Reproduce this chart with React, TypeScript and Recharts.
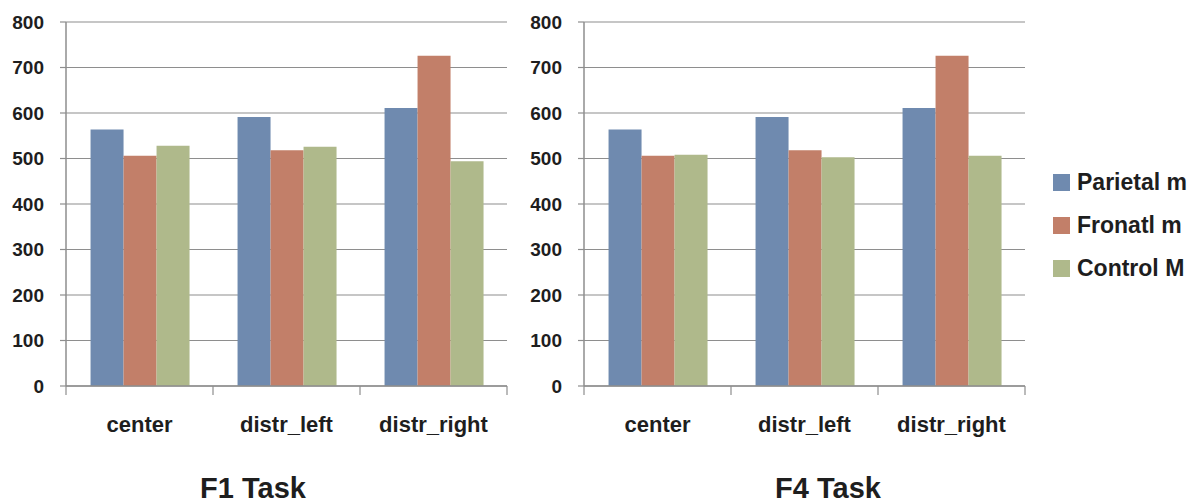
import React from 'react';
import { BarChart, Bar, XAxis, YAxis, CartesianGrid } from 'recharts';

const categories = ['center', 'distr_left', 'distr_right'];
const seriesNames = ['Parietal m', 'Fronatl m', 'Control M'];
const seriesColors = ['#6F8AAF', '#C27F69', '#AFB98B'];
const yTicks = [0, 100, 200, 300, 400, 500, 600, 700, 800];

const f1Parietal = [564, 591, 611];
const f1Frontal = [506, 518, 726];
const f1Control = [528, 526, 494];

const f4Parietal = [564, 591, 611];
const f4Frontal = [506, 518, 726];
const f4Control = [508, 503, 506];

const panelTitles = ['F1 Task', 'F4 Task'];

const FONT = '"Liberation Sans", Arial, sans-serif';
const TEXT = '#1e1e1e';
const GRID = '#8E8E8E';

const build = (a: number[], b: number[], c: number[]) =>
  categories.map((cat, i) => ({ cat, s0: a[i], s1: b[i], s2: c[i] }));

const f1Data = build(f1Parietal, f1Frontal, f1Control);
const f4Data = build(f4Parietal, f4Frontal, f4Control);

const CatTick = (props: any) => {
  const { x, y, payload, width, visibleTicksCount, index } = props;
  const half = payload && payload.offset ? payload.offset : width / visibleTicksCount / 2;
  const isLast = index === visibleTicksCount - 1;
  return (
    <g>
      <line x1={x - half} x2={x - half} y1={y} y2={y + 9} stroke={GRID} strokeWidth={1.2} />
      {isLast && <line x1={x + half} x2={x + half} y1={y} y2={y + 9} stroke={GRID} strokeWidth={1.2} />}
      <text x={x} y={y + 46} textAnchor="middle" fill={TEXT} fontFamily={FONT} fontWeight="bold" fontSize={22}>
        {payload.value}
      </text>
    </g>
  );
};

const Panel = ({ data }: { data: any[] }) => (
  <BarChart
    width={520}
    height={503}
    data={data}
    margin={{ top: 22, right: 13, bottom: 0, left: 0 }}
    barCategoryGap="16.7%"
    barGap={0}
  >
    <CartesianGrid vertical={false} stroke={GRID} strokeWidth={1.2} />
    <XAxis
      dataKey="cat"
      height={117}
      tickLine={false}
      tickSize={0}
      tickMargin={0}
      axisLine={{ stroke: GRID, strokeWidth: 1.5 }}
      tick={<CatTick />}
      interval={0}
    />
    <YAxis
      width={66}
      domain={[0, 800]}
      ticks={yTicks}
      interval={0}
      tickSize={6}
      tickMargin={16}
      axisLine={{ stroke: GRID, strokeWidth: 1.5 }}
      tickLine={{ stroke: GRID, strokeWidth: 1.2 }}
      tick={{ fill: TEXT, fontFamily: FONT, fontWeight: 'bold', fontSize: 19 }}
    />
    <Bar dataKey="s0" fill={seriesColors[0]} isAnimationActive={false} />
    <Bar dataKey="s1" fill={seriesColors[1]} isAnimationActive={false} />
    <Bar dataKey="s2" fill={seriesColors[2]} isAnimationActive={false} />
  </BarChart>
);

export default function App() {
  return (
    <div style={{ position: 'absolute', left: 0, top: 0, width: 1196, height: 503, background: '#fff', overflow: 'hidden' }}>
      <div style={{ position: 'absolute', left: 0, top: 0 }}>
        <Panel data={f1Data} />
      </div>
      <div style={{ position: 'absolute', left: 518, top: 0 }}>
        <Panel data={f4Data} />
      </div>
      {panelTitles.map((t, i) => (
        <div
          key={t}
          style={{
            position: 'absolute',
            left: i === 0 ? 153 : 728,
            width: 200,
            top: 471,
            textAlign: 'center',
            fontFamily: FONT,
            fontWeight: 'bold',
            fontSize: 29,
            lineHeight: '34px',
            color: TEXT,
          }}
        >
          {t}
        </div>
      ))}
      {seriesNames.map((n, i) => (
        <div
          key={n}
          style={{
            position: 'absolute',
            left: 1053,
            top: 170 + i * 43,
            height: 24,
            display: 'flex',
            alignItems: 'center',
            fontFamily: FONT,
            fontWeight: 'bold',
            fontSize: 23,
            color: TEXT,
            whiteSpace: 'nowrap',
          }}
        >
          <span style={{ display: 'inline-block', width: 17, height: 17, background: seriesColors[i], marginRight: 7 }} />
          {n}
        </div>
      ))}
    </div>
  );
}
